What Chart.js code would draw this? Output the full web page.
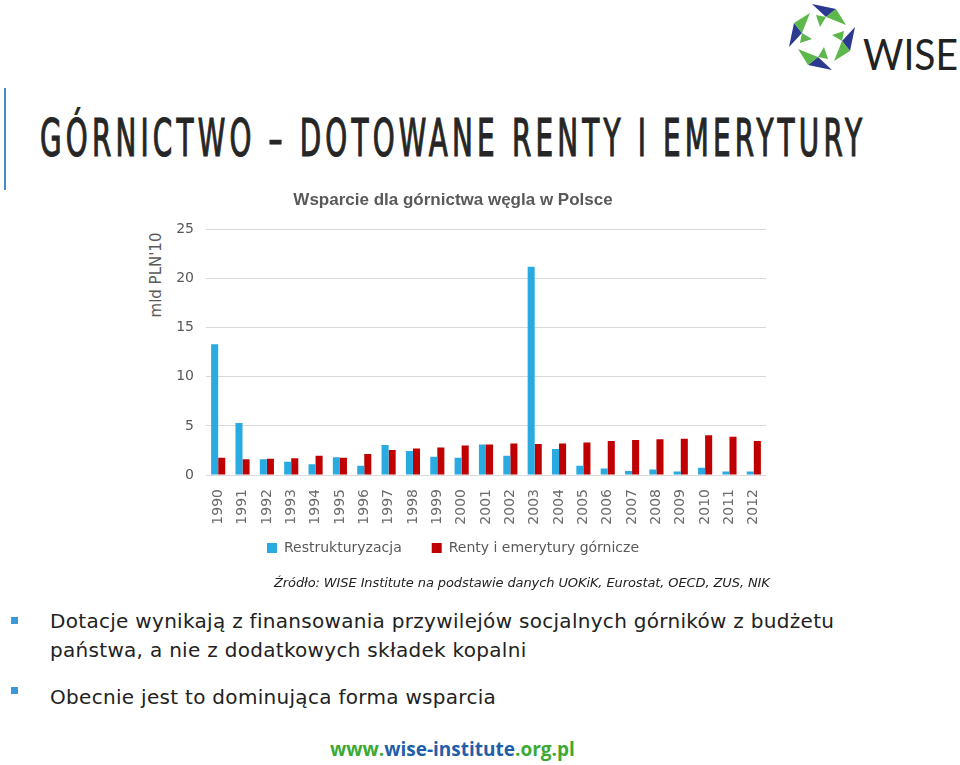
<!DOCTYPE html>
<html>
<head>
<meta charset="utf-8">
<script src="https://cdn.jsdelivr.net/npm/chart.js@4.4.1/dist/chart.umd.min.js"></script>
<style>
  body { margin: 0; width: 960px; height: 765px; background: #fff; position: relative; overflow: hidden; font-family: "DejaVu Sans", sans-serif; }
  .abs { position: absolute; white-space: nowrap; }
  #bar { left: 4px; top: 88px; width: 2px; height: 102px; background: #4a8ac4; }
  #title { left: 40px; top: 108px; font-family: "Liberation Sans Narrow", "DejaVu Sans Condensed", sans-serif; font-size: 52px; color: #262626; letter-spacing: 7px; transform-origin: 0 0; -webkit-text-stroke: 1.2px #262626; }
  #chartBox { left: 140px; top: 185px; width: 650px; height: 394px; }
  #ytitle { top: 275px; left: 156px; font-size: 15px; color: #595959; transform: translate(-50%, -50%) rotate(-90deg); }
  #source { left: 274px; top: 575px; font-size: 13px; font-style: italic; color: #222; letter-spacing: -0.1px; }
  .bullet { left: 11px; width: 7px; height: 7px; background: #3a9ad9; }
  .btext { left: 50px; font-size: 20px; color: #222; line-height: 29px; letter-spacing: 0.3px; }
  #url { left: 330px; top: 736px; font-family: "Open Sans", sans-serif; font-weight: bold; font-size: 19px; }
</style>
</head>
<body>
<div class="abs" id="bar"></div>
<svg class="abs" style="left:784px;top:0px" width="176" height="80" viewBox="0 0 176 80">
  <g transform="translate(38,37)">
    <g id="wing">
      <polygon points="-10,-33 14,-28 4,-20" fill="#2b3a8f"/>
      <polygon points="4,-20 14,-28 24,-12" fill="#5cb84a"/>
      <polygon points="-6,-22 4,-20 -2,-10" fill="#5cb84a"/>
    </g>
    <use href="#wing" transform="rotate(90)"/>
    <use href="#wing" transform="rotate(180)"/>
    <use href="#wing" transform="rotate(270)"/>
  </g>
  <text x="79" y="70" font-family="Lato, sans-serif" font-size="42" fill="#222" textLength="95" lengthAdjust="spacingAndGlyphs">WISE</text>
</svg>
<div class="abs" id="title">GÓRNICTWO – DOTOWANE RENTY I EMERYTURY</div>
<div class="abs" id="ytitle">mld PLN'10</div>
<div class="abs" id="chartBox"><canvas id="chart"></canvas></div>
<div class="abs" id="source">Źródło: WISE Institute na podstawie danych UOKiK, Eurostat, OECD, ZUS, NIK</div>
<div class="abs bullet" style="top:617px"></div>
<div class="abs btext" style="top:607px">Dotacje wynikają z finansowania przywilejów socjalnych górników z budżetu<br>państwa, a nie z dodatkowych składek kopalni</div>
<div class="abs bullet" style="top:687px"></div>
<div class="abs btext" style="top:683px">Obecnie jest to dominująca forma wsparcia</div>
<div class="abs" id="url"><span style="color:#3aaa35">www.</span><span style="color:#1f5fa8">wise-institute</span><span style="color:#3aaa35">.org.pl</span></div>

<script>
const years = ['1990','1991','1992','1993','1994','1995','1996','1997','1998','1999','2000','2001',
               '2002','2003','2004','2005','2006','2007','2008','2009','2010','2011','2012']
const restrukturyzacja = [13.3, 5.3, 1.6, 1.35, 1.1, 1.8, 0.95, 3.05, 2.45, 1.85, 1.75, 3.1,
                          1.95, 21.2, 2.65, 0.95, 0.65, 0.4, 0.55, 0.35, 0.75, 0.35, 0.35]
const renty = [1.75, 1.6, 1.65, 1.7, 1.95, 1.75, 2.15, 2.55, 2.7, 2.8, 3.0, 3.1,
               3.2, 3.15, 3.2, 3.3, 3.45, 3.55, 3.65, 3.7, 4.05, 3.9, 3.45]
const yTicks = [0, 5, 10, 15, 20, 25]

// fit the title width to the slide
const title = document.getElementById('title')
title.style.transform = 'scaleX(' + (826 / title.offsetWidth) + ')'

const grey = '#595959'

// legend keeps its wide item spacing but sits closer to the axis labels
const legendUp = {
    id: 'legendUp',
    afterInit(chart) {
        const legend = chart.legend
        const draw = legend.draw.bind(legend)
        legend.draw = function () {
            chart.ctx.save()
            chart.ctx.translate(0, -14)
            draw()
            chart.ctx.restore()
        }
    }
}

new Chart(document.getElementById('chart'), {
    type: 'bar',
    data: {
        labels: years,
        datasets: [{
            label: 'Restrukturyzacja',
            data: restrukturyzacja,
            backgroundColor: '#29abe2',
            barPercentage: 1,
            categoryPercentage: 0.58
        }, {
            label: 'Renty i emerytury górnicze',
            data: renty,
            backgroundColor: '#c00000',
            barPercentage: 1,
            categoryPercentage: 0.58
        }]
    },
    options: {
        responsive: true,
        maintainAspectRatio: false,
        animation: false,
        layout: { padding: { left: 0, right: 24, top: 0, bottom: 0 } },
        plugins: {
            title: {
                display: true,
                text: 'Wsparcie dla górnictwa węgla w Polsce',
                color: grey,
                font: { family: 'Liberation Sans', size: 17, weight: 'bold' },
                padding: { top: 5, bottom: 19 }
            },
            legend: {
                position: 'bottom',
                labels: {
                    color: grey,
                    font: { family: 'DejaVu Sans', size: 14 },
                    boxWidth: 10,
                    boxHeight: 10,
                    padding: 30
                }
            },
            tooltip: { enabled: false }
        },
        scales: {
            x: {
                grid: { display: false },
                border: { display: false },
                ticks: {
                    color: '#6b6b6b',
                    font: { family: 'DejaVu Sans', size: 14 },
                    minRotation: 90,
                    maxRotation: 90,
                    autoSkip: false,
                    padding: 6
                },
                afterFit: scale => { scale.height = 50 }
            },
            y: {
                min: 0,
                max: 25,
                afterBuildTicks: scale => { scale.ticks = yTicks.map(v => ({ value: v })) },
                grid: { color: '#d9d9d9', drawTicks: false },
                border: { display: false },
                ticks: {
                    color: grey,
                    font: { family: 'DejaVu Sans', size: 14 },
                    padding: 12
                },
                afterFit: scale => { scale.width = 66 }
            }
        }
    },
    plugins: [legendUp]
})
</script>
</body>
</html>
